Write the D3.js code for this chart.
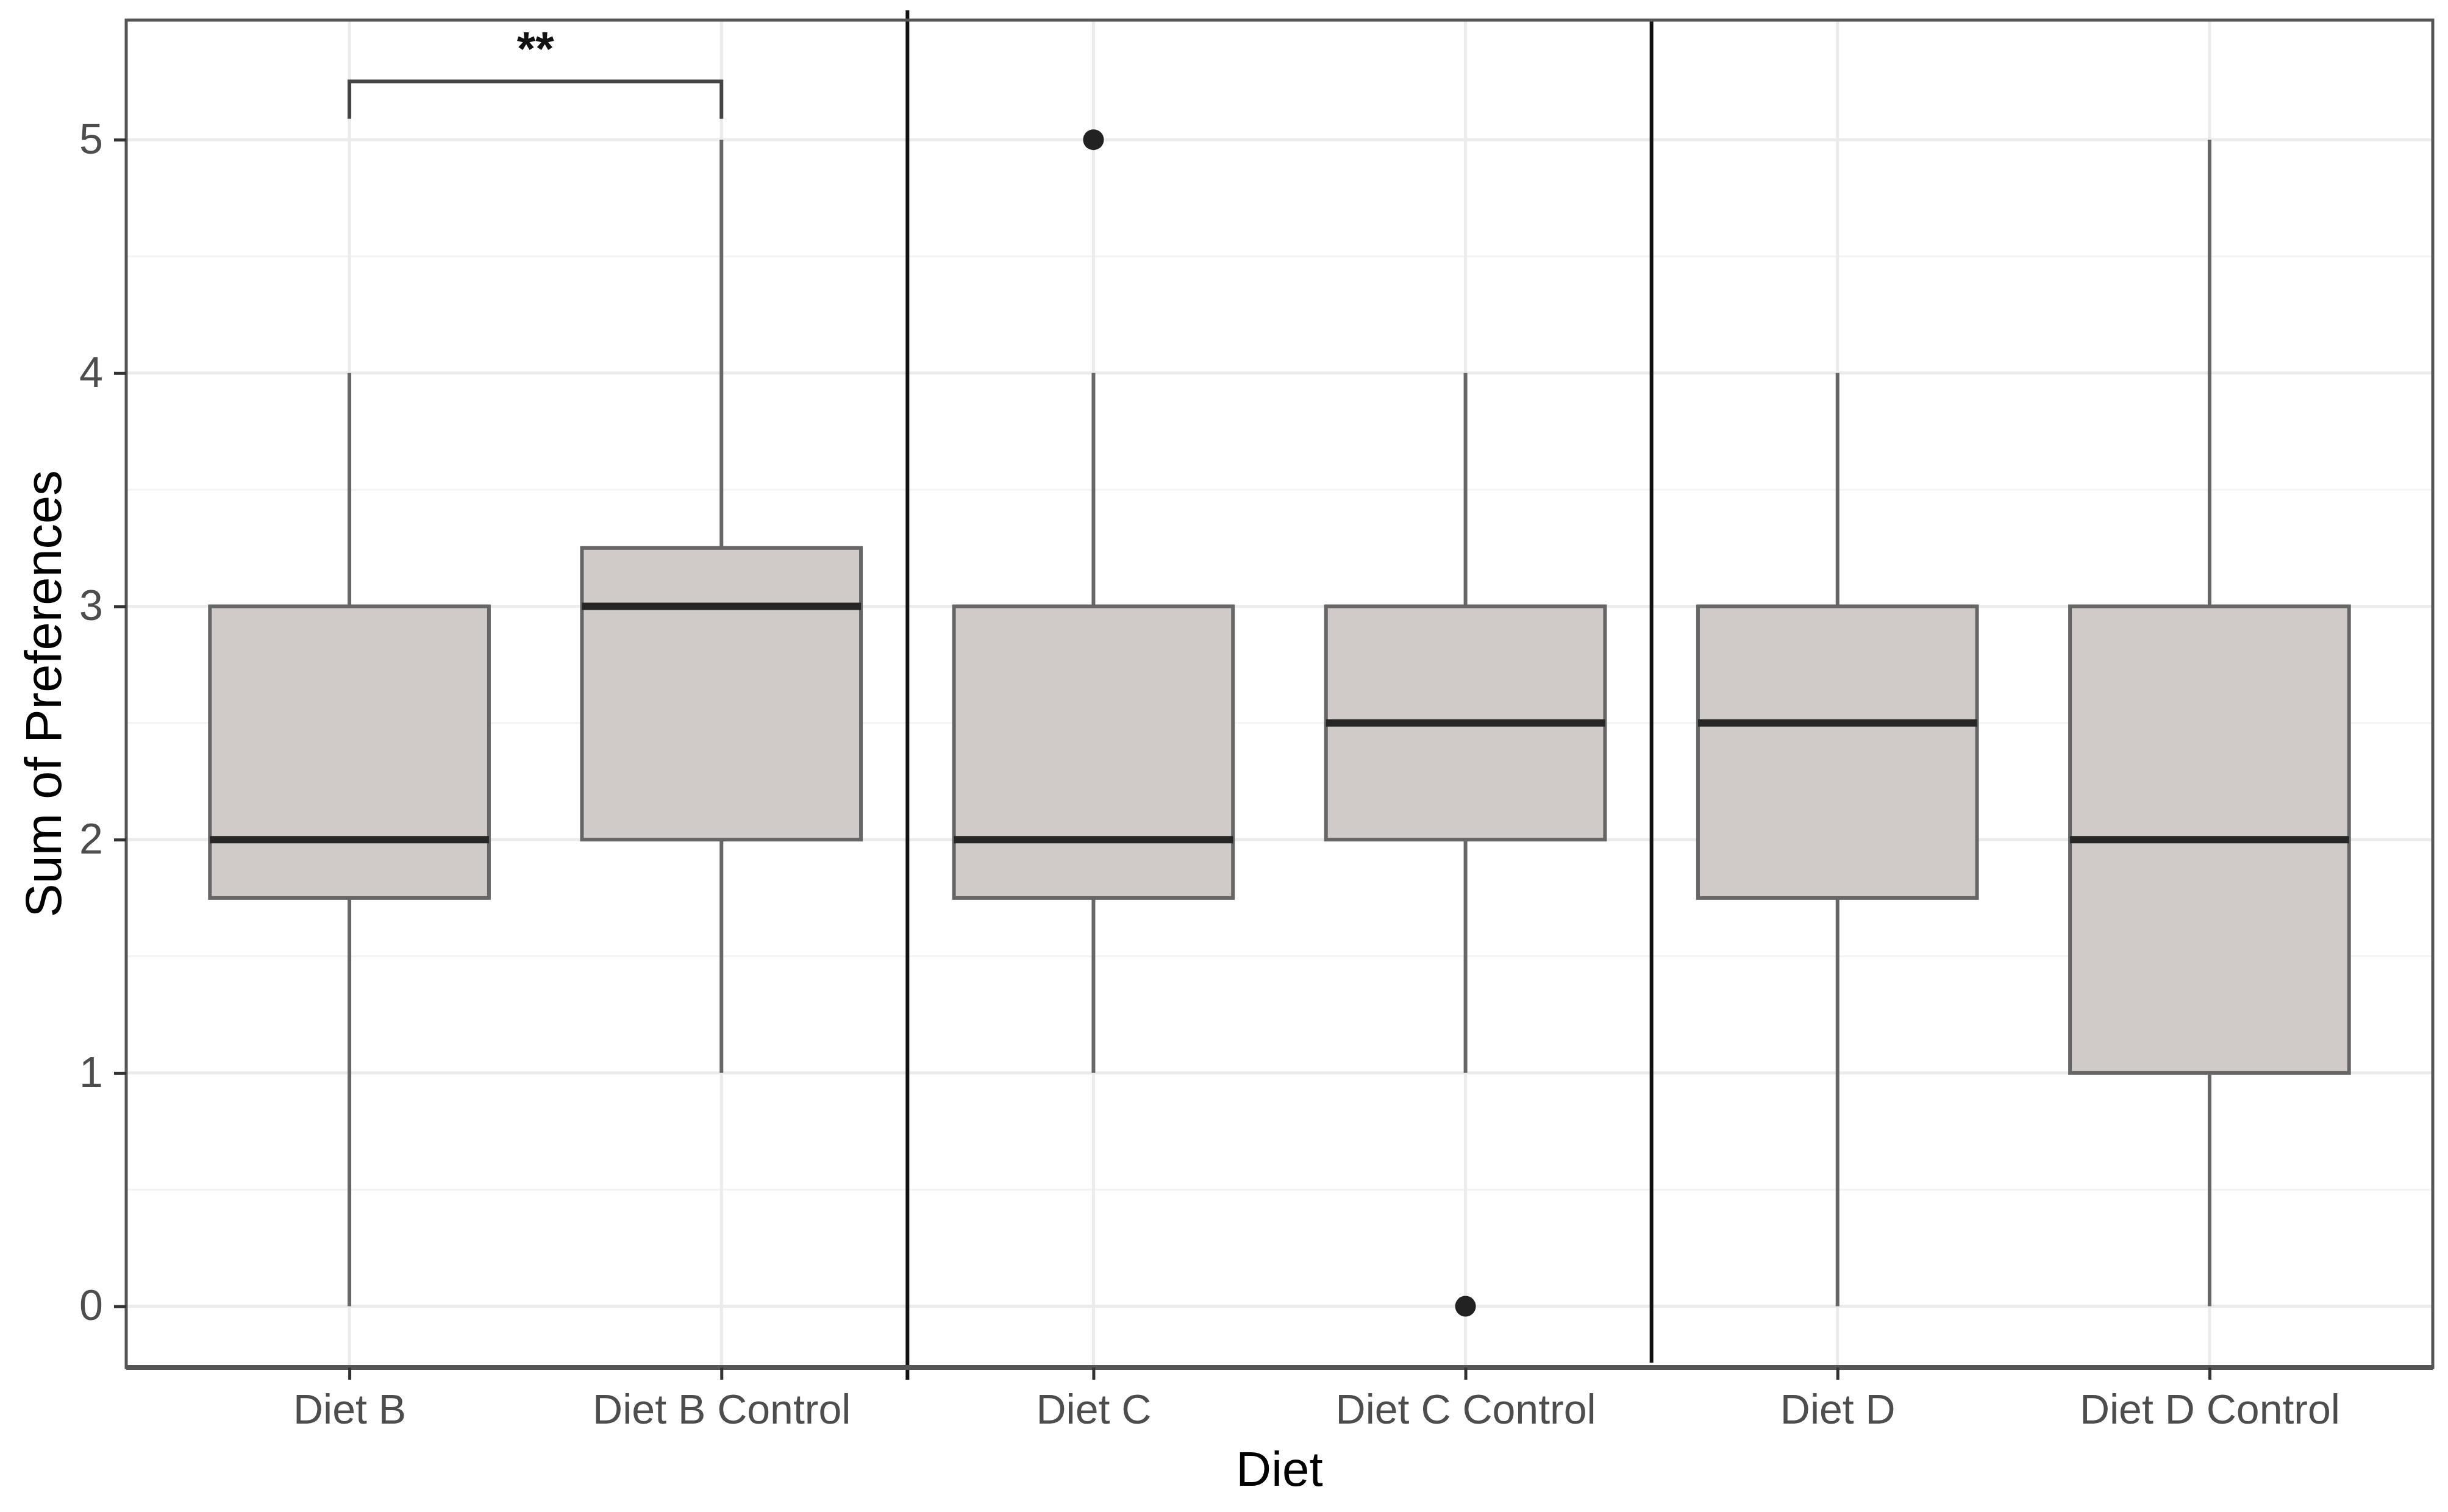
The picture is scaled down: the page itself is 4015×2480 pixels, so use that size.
<!DOCTYPE html>
<html>
<head>
<meta charset="utf-8">
<script src="https://cdn.jsdelivr.net/npm/d3@7"></script>
<style>
  body { margin: 0; background: #fff; }
  text { font-family: "Liberation Sans", Arial, sans-serif; }
</style>
</head>
<body>
<div id="chart"></div>
<script>
const categories = ['Diet B', 'Diet B Control', 'Diet C', 'Diet C Control', 'Diet D', 'Diet D Control'];
const whiskerLow = [0, 1, 1, 1, 0, 0];
const q1 = [1.75, 2, 1.75, 2, 1.75, 1];
const median = [2, 3, 2, 2.5, 2.5, 2];
const q3 = [3, 3.25, 3, 3, 3, 3];
const whiskerHigh = [4, 5, 4, 4, 4, 5];
const outliers = [[], [], [5], [0], [], []];
const yTicks = [0, 1, 2, 3, 4, 5];
const yMinor = [0.5, 1.5, 2.5, 3.5, 4.5];
const sigPair = ['Diet B', 'Diet B Control'];
const sigLabel = '**';
const sigY = 5.25, sigTip = 5.09;

const W = 4015, H = 2480;
const pLeft = 207, pRight = 3990, pTop = 33, pBottom = 2243;

const svg = d3.select('#chart')
  .append('svg')
  .attr('width', W)
  .attr('height', H);

const x = d3.scalePoint()
  .domain(categories)
  .range([pLeft, pRight])
  .padding(0.6);

const y = d3.scaleLinear()
  .domain([-0.2625, 5.5125])
  .range([pBottom, pTop]);

const boxW = x.step() * 0.75;

// grid
const grid = svg.append('g');
grid.selectAll('.minor')
  .data(yMinor)
  .join('line')
  .attr('x1', pLeft).attr('x2', pRight)
  .attr('y1', d => y(d)).attr('y2', d => y(d))
  .attr('stroke', '#f3f3f3').attr('stroke-width', 3);
grid.selectAll('.major')
  .data(yTicks)
  .join('line')
  .attr('x1', pLeft).attr('x2', pRight)
  .attr('y1', d => y(d)).attr('y2', d => y(d))
  .attr('stroke', '#ebebeb').attr('stroke-width', 5);
grid.selectAll('.vmajor')
  .data(categories)
  .join('line')
  .attr('x1', d => x(d)).attr('x2', d => x(d))
  .attr('y1', pTop).attr('y2', pBottom)
  .attr('stroke', '#ebebeb').attr('stroke-width', 5);

const boxes = categories.map((c, i) => ({
  c, lo: whiskerLow[i], q1: q1[i], med: median[i], q3: q3[i], hi: whiskerHigh[i], out: outliers[i]
}));

const g = svg.append('g');
const bx = g.selectAll('g.box')
  .data(boxes)
  .join('g');

bx.append('line')
  .attr('x1', d => x(d.c)).attr('x2', d => x(d.c))
  .attr('y1', d => y(d.hi)).attr('y2', d => y(d.q3))
  .attr('stroke', '#666').attr('stroke-width', 6);
bx.append('line')
  .attr('x1', d => x(d.c)).attr('x2', d => x(d.c))
  .attr('y1', d => y(d.q1)).attr('y2', d => y(d.lo))
  .attr('stroke', '#666').attr('stroke-width', 6);
bx.append('rect')
  .attr('x', d => x(d.c) - boxW / 2)
  .attr('width', boxW)
  .attr('y', d => y(d.q3))
  .attr('height', d => y(d.q1) - y(d.q3))
  .attr('fill', '#d0cbc8')
  .attr('stroke', '#666').attr('stroke-width', 6);
bx.append('line')
  .attr('x1', d => x(d.c) - boxW / 2).attr('x2', d => x(d.c) + boxW / 2)
  .attr('y1', d => y(d.med)).attr('y2', d => y(d.med))
  .attr('stroke', '#262626').attr('stroke-width', 12);
bx.selectAll('circle')
  .data(d => d.out.map(v => ({ c: d.c, v })))
  .join('circle')
  .attr('cx', d => x(d.c))
  .attr('cy', d => y(d.v))
  .attr('r', 17)
  .attr('fill', '#222');

// separators between diets
const seps = [
  { a: 'Diet B Control', b: 'Diet C', y1: pTop - 16, y2: pBottom + 20 },
  { a: 'Diet C Control', b: 'Diet D', y1: pTop, y2: pBottom - 8 }
];
svg.selectAll('.sep')
  .data(seps)
  .join('line')
  .attr('x1', d => (x(d.a) + x(d.b)) / 2)
  .attr('x2', d => (x(d.a) + x(d.b)) / 2)
  .attr('y1', d => d.y1).attr('y2', d => d.y2)
  .attr('stroke', '#111').attr('stroke-width', 6);

// significance bracket
const x1 = x(sigPair[0]), x2 = x(sigPair[1]);
svg.append('path')
  .attr('d', `M${x1},${y(sigTip)}V${y(sigY)}H${x2}V${y(sigTip)}`)
  .attr('fill', 'none')
  .attr('stroke', '#444').attr('stroke-width', 6);
svg.append('text')
  .attr('x', (x1 + x2) / 2)
  .attr('y', y(sigY) - 26)
  .attr('text-anchor', 'middle')
  .attr('font-size', 78)
  .attr('font-weight', 'bold')
  .attr('fill', '#111')
  .text(sigLabel);

// panel border
svg.append('rect')
  .attr('x', pLeft).attr('y', pTop)
  .attr('width', pRight - pLeft).attr('height', pBottom - pTop)
  .attr('fill', 'none')
  .attr('stroke', '#555').attr('stroke-width', 5);
svg.append('line')
  .attr('x1', pLeft).attr('x2', pRight)
  .attr('y1', pBottom).attr('y2', pBottom)
  .attr('stroke', '#555').attr('stroke-width', 8);

// axes
function yAxis(g) {
  g.attr('transform', `translate(${pLeft},0)`)
    .call(d3.axisLeft(y).tickValues(yTicks).tickFormat(d3.format('d')).tickSize(20).tickPadding(18))
    .call(g => g.select('.domain').remove())
    .attr('font-size', 70)
    .attr('font-family', '"Liberation Sans", Arial, sans-serif');
  g.selectAll('.tick line').attr('stroke', '#333').attr('stroke-width', 5);
  g.selectAll('.tick text').attr('fill', '#4d4d4d');
}

function xAxis(g) {
  g.attr('transform', `translate(0,${pBottom})`)
    .call(d3.axisBottom(x).tickSize(20).tickPadding(24))
    .call(g => g.select('.domain').remove())
    .attr('font-size', 68)
    .attr('font-family', '"Liberation Sans", Arial, sans-serif');
  g.selectAll('.tick line').attr('stroke', '#333').attr('stroke-width', 5);
  g.selectAll('.tick text').attr('fill', '#4d4d4d');
}

svg.append('g').call(xAxis);
svg.append('g').call(yAxis);

svg.append('text')
  .attr('x', (pLeft + pRight) / 2)
  .attr('y', 2437)
  .attr('text-anchor', 'middle')
  .attr('font-size', 80)
  .attr('fill', '#000')
  .text('Diet');

svg.append('text')
  .attr('transform', `translate(100,${(pTop + pBottom) / 2}) rotate(-90)`)
  .attr('text-anchor', 'middle')
  .attr('font-size', 83)
  .attr('fill', '#000')
  .text('Sum of Preferences');
</script>
</body>
</html>
